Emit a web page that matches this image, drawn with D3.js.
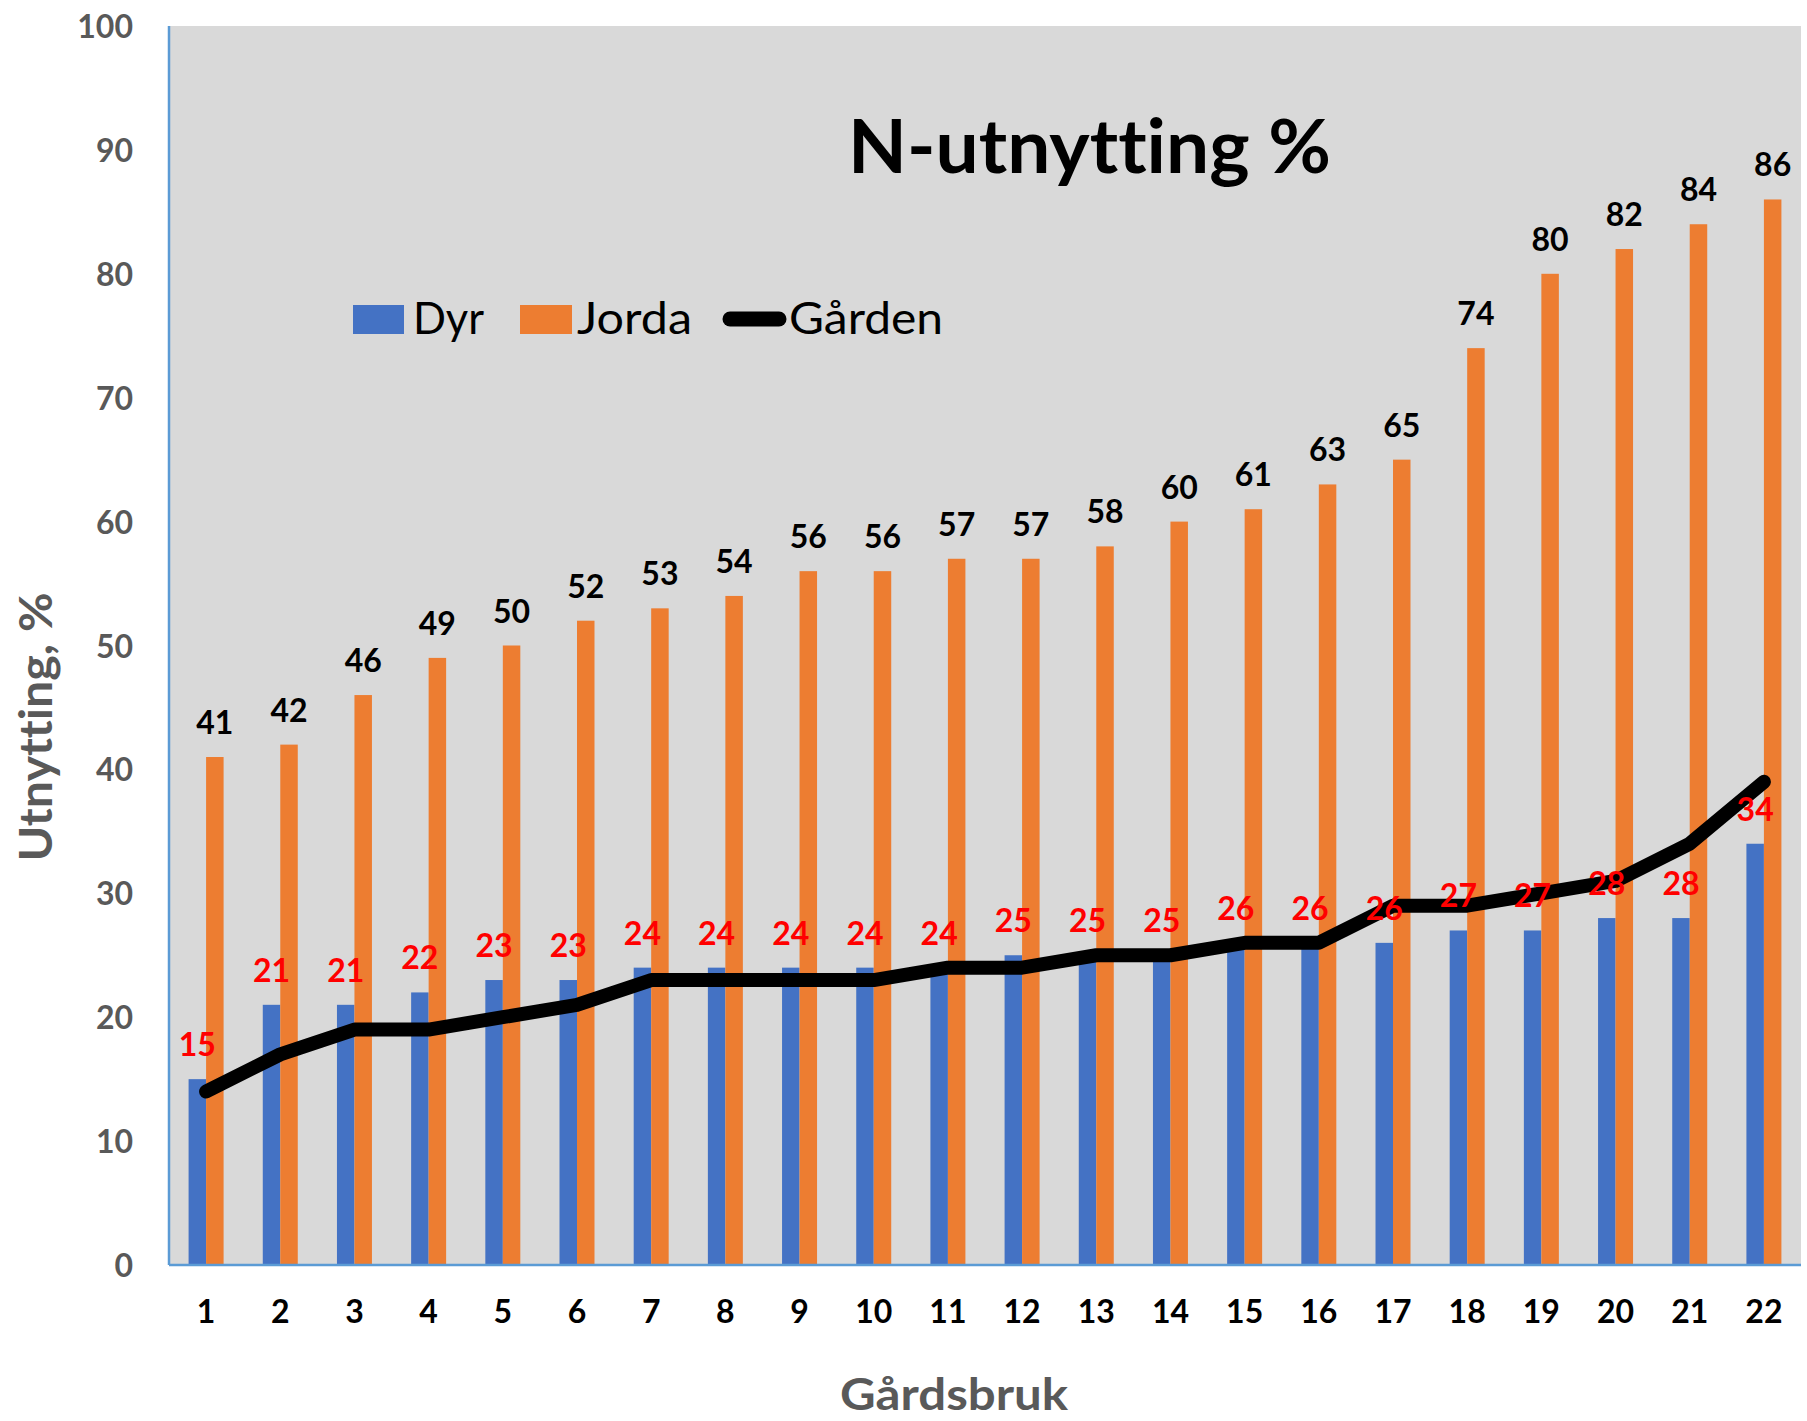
<!DOCTYPE html>
<html>
<head>
<meta charset="utf-8">
<script src="https://cdn.jsdelivr.net/npm/d3@7"></script>
<style>
  html, body { margin: 0; padding: 0; background: #ffffff; }
  svg { display: block; }
  text { font-variant-ligatures: none; font-feature-settings: "liga" 0, "clig" 0; }
</style>
</head>
<body>
<svg id="chart" width="1807" height="1421"></svg>
<script>
const categories = ["1","2","3","4","5","6","7","8","9","10","11","12","13","14","15","16","17","18","19","20","21","22"];
const dyr = [15,21,21,22,23,23,24,24,24,24,24,25,25,25,26,26,26,27,27,28,28,34];
const jorda = [41,42,46,49,50,52,53,54,56,56,57,57,58,60,61,63,65,74,80,82,84,86];
const garden = [14,17,19,19,20,21,23,23,23,23,24,24,25,25,26,26,29,29,30,31,34,39];
const yTicks = [0,10,20,30,40,50,60,70,80,90,100];
const seriesNames = ["Dyr","Jorda","Gården"];
const titleText = "N-utnytting %";
const yTitle = "Utnytting, %";
const xTitle = "Gårdsbruk";

const C_BLUE = "#4472C4", C_ORANGE = "#ED7D31", C_BG = "#D9D9D9", C_AXIS = "#5B9BD5", C_GREY = "#595959";
const FONT = "Lato, 'Open Sans', sans-serif";

const svg = d3.select("#chart");
const L = 169, R = 1801, T = 26, B = 1265;

const x0 = d3.scaleBand().domain(categories).range([L, R]).padding(0);
const x1 = d3.scaleBand().domain(["Dyr","Jorda"]).range([0, x0.bandwidth()]).paddingInner(0).paddingOuter(1.12);
const y = d3.scaleLinear().domain([0, 100]).range([B, T]);

// plot background
svg.append("rect").attr("x", L).attr("y", T).attr("width", R - L).attr("height", B - T).attr("fill", C_BG);

// bars
const data = categories.map((c, i) => ({ c, dyr: dyr[i], jorda: jorda[i], garden: garden[i] }));
const g = svg.append("g");
g.selectAll("rect.dyr").data(data).join("rect")
  .attr("x", d => x0(d.c) + x1("Dyr")).attr("width", x1.bandwidth())
  .attr("y", d => y(d.dyr)).attr("height", d => B - y(d.dyr)).attr("fill", C_BLUE);
g.selectAll("rect.jorda").data(data).join("rect")
  .attr("x", d => x0(d.c) + x1("Jorda")).attr("width", x1.bandwidth())
  .attr("y", d => y(d.jorda)).attr("height", d => B - y(d.jorda)).attr("fill", C_ORANGE);

// axes
const xAxis = d3.axisBottom(x0).tickSize(0).tickPadding(0);
const xg = svg.append("g").attr("transform", `translate(0,${B})`).call(xAxis);
xg.select(".domain").attr("stroke", C_AXIS).attr("stroke-width", 2.5).attr("d", `M${L},0H${R}`);
xg.selectAll(".tick text").attr("y", 58).attr("dy", null)
  .attr("font-family", FONT).attr("font-weight", "bold").attr("font-size", 32).attr("fill", "#000");

const yAxis = d3.axisLeft(y).tickValues(yTicks).tickSize(0).tickPadding(0);
const yg = svg.append("g").attr("transform", `translate(${L},0)`).call(yAxis);
yg.select(".domain").attr("stroke", C_AXIS).attr("stroke-width", 2.5).attr("d", `M0,${T}V${B}`);
yg.selectAll(".tick text").attr("x", -36).attr("dy", "0.36em")
  .attr("font-family", FONT).attr("font-weight", "bold").attr("font-size", 32).attr("fill", C_GREY);

// line
const line = d3.line().x(d => x0(d.c) + x0.bandwidth() / 2).y(d => y(d.garden));
svg.append("path").datum(data).attr("d", line)
  .attr("fill", "none").attr("stroke", "#000").attr("stroke-width", 14)
  .attr("stroke-linejoin", "round").attr("stroke-linecap", "round");

// data labels
svg.selectAll("text.lj").data(data).join("text")
  .attr("x", d => x0(d.c) + x1("Jorda") + x1.bandwidth() / 2)
  .attr("y", d => y(d.jorda) - 23)
  .attr("text-anchor", "middle").attr("font-family", FONT).attr("font-weight", "bold")
  .attr("font-size", 32).attr("fill", "#000").text(d => d.jorda);
svg.selectAll("text.ld").data(data).join("text")
  .attr("x", d => x0(d.c) + x1("Dyr") + x1.bandwidth() / 2)
  .attr("y", d => y(d.dyr) - 23)
  .attr("text-anchor", "middle").attr("font-family", FONT).attr("font-weight", "bold")
  .attr("font-size", 32).attr("fill", "#FF0000").text(d => d.dyr);

// title
svg.append("text").attr("x", 848).attr("y", 173)
  .attr("font-family", FONT).attr("font-weight", "bold").attr("font-size", 74)
  .attr("textLength", 483).attr("lengthAdjust", "spacingAndGlyphs")
  .attr("fill", "#000").text(titleText);

// legend
const lg = svg.append("g");
lg.append("rect").attr("x", 353).attr("y", 305).attr("width", 51).attr("height", 29).attr("fill", C_BLUE);
lg.append("text").attr("x", 413).attr("y", 334).attr("font-family", FONT).attr("font-size", 45)
  .attr("textLength", 71).attr("lengthAdjust", "spacingAndGlyphs").text(seriesNames[0]);
lg.append("rect").attr("x", 520).attr("y", 305).attr("width", 52).attr("height", 29).attr("fill", C_ORANGE);
lg.append("text").attr("x", 577).attr("y", 334).attr("font-family", FONT).attr("font-size", 45)
  .attr("textLength", 115).attr("lengthAdjust", "spacingAndGlyphs").text(seriesNames[1]);
lg.append("line").attr("x1", 730).attr("x2", 779).attr("y1", 319).attr("y2", 319)
  .attr("stroke", "#000").attr("stroke-width", 15).attr("stroke-linecap", "round");
lg.append("text").attr("x", 789).attr("y", 334).attr("font-family", FONT).attr("font-size", 45)
  .attr("textLength", 154).attr("lengthAdjust", "spacingAndGlyphs").text(seriesNames[2]);

// axis titles
svg.append("text").attr("transform", `translate(52,727) rotate(-90)`)
  .attr("text-anchor", "middle").attr("font-family", FONT).attr("font-weight", "bold").attr("font-size", 46)
  .attr("textLength", 269).attr("lengthAdjust", "spacingAndGlyphs")
  .attr("fill", C_GREY).text(yTitle);
svg.append("text").attr("x", 954).attr("y", 1410)
  .attr("text-anchor", "middle").attr("font-family", FONT).attr("font-weight", "bold").attr("font-size", 44)
  .attr("textLength", 228).attr("lengthAdjust", "spacingAndGlyphs")
  .attr("fill", C_GREY).text(xTitle);
</script>
</body>
</html>
